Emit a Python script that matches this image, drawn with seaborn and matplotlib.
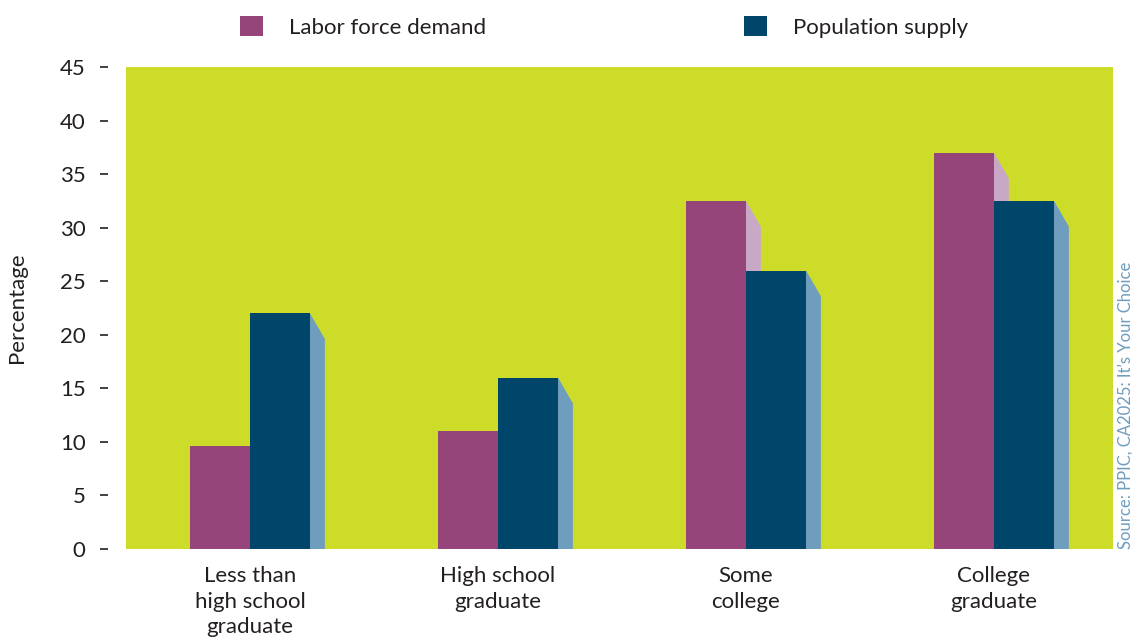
import matplotlib
matplotlib.use("Agg")
import matplotlib.pyplot as plt
import seaborn as sns
import pandas as pd
from matplotlib.patches import Polygon

categories = ["Less than\nhigh school\ngraduate", "High school\ngraduate", "Some\ncollege", "College\ngraduate"]
series_names = ["Labor force demand", "Population supply"]
demand = [9.6, 11.0, 32.5, 37.0]
supply = [22.0, 16.0, 26.0, 32.5]
yticks = [0, 5, 10, 15, 20, 25, 30, 35, 40, 45]
source_text = "Source: PPIC, CA2025: It\u2019s Your Choice"

front_colors = ["#96457a", "#00466b"]
side_colors = ["#c9a8c6", "#6f9dbd"]
bg = "#cddc29"

df = pd.DataFrame({
    "Category": categories * 2,
    "Series": [series_names[0]] * len(categories) + [series_names[1]] * len(categories),
    "Value": demand + supply,
})

sns.set_theme(style="white")
plt.rcParams["font.family"] = ["Lato", "DejaVu Sans"]

fig = plt.figure(figsize=(11.34, 6.4), dpi=100)
ax = fig.add_axes([0.1111, 0.1422, 0.8704, 0.7531])
ax.set_facecolor(bg)

sns.barplot(data=df, x="Category", y="Value", hue="Series", order=categories,
            hue_order=series_names, palette=front_colors, width=0.484,
            linewidth=0, saturation=1, ax=ax, zorder=3, errorbar=None)

# pseudo-3D side faces derived from bar geometry
dx, dy = 0.06, 2.4
for cont, sc in zip(ax.containers, side_colors):
    for p in cont.patches:
        x1 = p.get_x() + p.get_width()
        top = p.get_height()
        poly = Polygon([(x1, top), (x1 + dx, top - dy), (x1 + dx, 0), (x1, 0)],
                       closed=True, facecolor=sc, edgecolor="none", zorder=2)
        ax.add_patch(poly)

ax.set_xlim(-0.5, 3.48)
ax.set_ylim(0, 45)
ax.set_yticks(yticks)
ax.set_yticklabels([str(t) for t in yticks])
ax.tick_params(axis="x", labelsize=16, colors="#231f20", length=0, pad=12)
ax.tick_params(axis="y", labelsize=16, labelcolor="#231f20", length=6, width=1.2,
               color="#231f20", direction="out", pad=10, left=True)
for lbl in ax.get_xticklabels():
    lbl.set_linespacing(1.37)
for s in ["top", "right", "bottom"]:
    ax.spines[s].set_visible(False)
ax.spines["left"].set_position(("outward", 13))
ax.spines["left"].set_visible(False)
ax.set_xlabel("")
ax.set_ylabel("Percentage", fontsize=16, color="#231f20")
ax.yaxis.set_label_coords(-0.1, 0.5)

sns.move_legend(ax, "center left", bbox_to_anchor=(0.107, 1.083), ncol=2, frameon=False,
                title=None, fontsize=16, handlelength=1.0, handleheight=1.0,
                handletextpad=1.2, columnspacing=11.6, borderaxespad=0)
for t in ax.get_legend().get_texts():
    t.set_color("#231f20")

fig.text(0.9925, 0.1422, source_text, rotation=90, ha="center", va="bottom",
         fontsize=12, color="#6f9dbd")

fig.savefig("out.png", dpi=100)
